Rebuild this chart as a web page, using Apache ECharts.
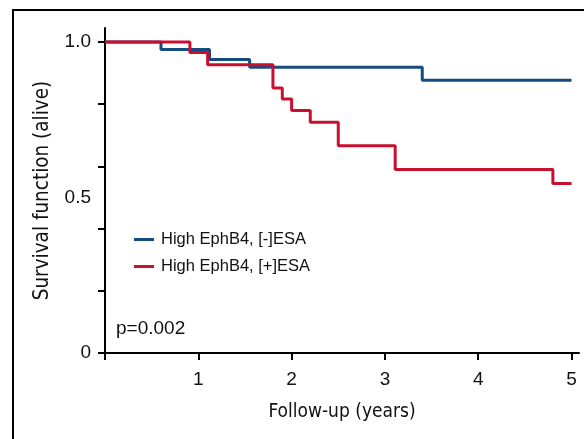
<!DOCTYPE html>
<html>
<head>
<meta charset="utf-8">
<script src="https://cdn.jsdelivr.net/npm/echarts@6/dist/echarts.min.js"></script>
<style>
html,body{margin:0;padding:0;background:#fff;}
#frame{position:absolute;left:12px;top:9px;width:600px;height:460px;border:2px solid #000;box-sizing:border-box;}
#chart{position:absolute;left:0;top:0;width:584px;height:439px;}
</style>
</head>
<body>
<div id="frame"></div>
<div id="chart"></div>
<script>
const blueTimes = [0, 0.60, 1.12, 1.55, 3.40, 5.0];
const blueSurv  = [1.0, 0.976, 0.944, 0.919, 0.877, 0.877];
const redTimes  = [0, 0.91, 1.10, 1.80, 1.90, 2.00, 2.20, 2.50, 3.11, 4.80, 5.0];
const redSurv   = [1.0, 0.966, 0.927, 0.852, 0.817, 0.780, 0.742, 0.666, 0.590, 0.545, 0.545];
const seriesNames = ['High EphB4, [-]ESA', 'High EphB4, [+]ESA'];
const xTicks = [0, 1, 2, 3, 4, 5];
const xLabels = [1, 2, 3, 4, 5];
const yTicks = [0, 0.2, 0.4, 0.6, 0.8, 1.0];
const yLabels = [0, 0.5, 1.0];
const pText = 'p=0.002';
const xTitle = 'Follow-up (years)';
const yTitle = 'Survival function (alive)';

const BLUE = '#154c80', RED = '#c8102e';
const labelFont = 'Liberation Sans, Arial, sans-serif';
const titleFont = 'Liberation Sans Narrow, DejaVu Sans Condensed, sans-serif';

const chart = echarts.init(document.getElementById('chart'), null, {renderer: 'canvas'});
chart.setOption({
  animation: false,
  backgroundColor: 'transparent',
  grid: {left: 105, right: 5, top: 28, bottom: 86},
  legend: {
    left: 129, top: 226, orient: 'vertical', itemGap: 10,
    itemWidth: 20, itemHeight: 3, icon: 'rect',
    textStyle: {fontFamily: labelFont, fontSize: 16.5, color: '#111', padding: [0,0,0,2]},
    data: seriesNames
  },
  graphic: [
    {type: 'text', left: 116, top: 319, style: {text: pText, font: '19px ' + labelFont, fill: '#111'}}
  ],
  xAxis: {
    type: 'value', min: 0, max: 5.08,
    name: xTitle, nameLocation: 'middle', nameGap: 50,
    nameTextStyle: {fontFamily: titleFont, fontSize: 19, color: '#111'},
    axisLine: {show: true, onZero: false, lineStyle: {color: '#000', width: 2}},
    axisTick: {show: true, length: 7, lineStyle: {color: '#000', width: 2}, customValues: xTicks},
    axisLabel: {show: true, margin: 17, fontFamily: labelFont, fontSize: 19, color: '#111', customValues: xLabels},
    splitLine: {show: false}
  },
  yAxis: {
    type: 'value', min: 0, max: 1.045,
    name: yTitle, nameLocation: 'middle', nameGap: 52, nameRotate: 90,
    nameTextStyle: {fontFamily: titleFont, fontSize: 20.5, color: '#111'},
    axisLine: {show: true, lineStyle: {color: '#000', width: 2}},
    axisTick: {show: true, length: 7, lineStyle: {color: '#000', width: 2}, customValues: yTicks},
    axisLabel: {show: true, margin: 14, fontFamily: labelFont, fontSize: 19, color: '#111', customValues: yLabels,
      formatter: v => (v === 0 ? '0' : v.toFixed(1))},
    splitLine: {show: false}
  },
  series: [
    {name: seriesNames[0], type: 'line', step: 'end', showSymbol: false, z: 2,
     lineStyle: {color: BLUE, width: 3}, itemStyle: {color: BLUE},
     data: blueTimes.map((t, i) => [t, blueSurv[i]])},
    {name: seriesNames[1], type: 'line', step: 'end', showSymbol: false, z: 3,
     lineStyle: {color: RED, width: 3}, itemStyle: {color: RED},
     data: redTimes.map((t, i) => [t, redSurv[i]])}
  ]
});
</script>
</body>
</html>
